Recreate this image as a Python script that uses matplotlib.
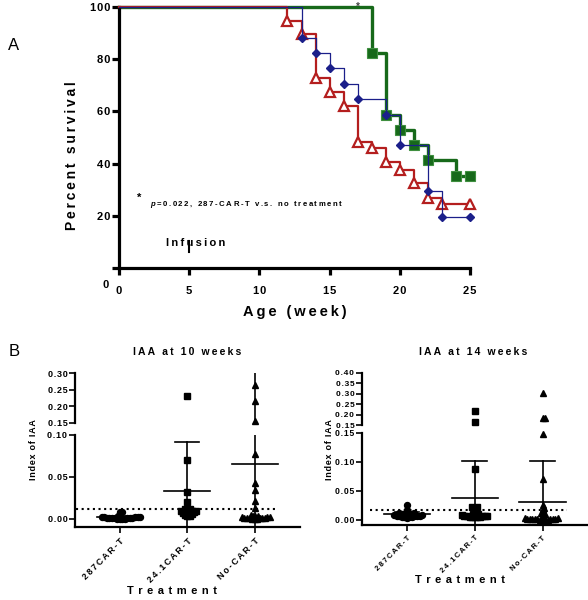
import numpy as np
import matplotlib.pyplot as plt

plt.rcParams['font.family'] = ['Liberation Sans', 'DejaVu Sans']
plt.rcParams['font.weight'] = 'bold'
plt.rcParams['mathtext.fontset'] = 'custom'
plt.rcParams['mathtext.it'] = 'Liberation Sans:italic:bold'

##################################################################################
# Data
##################################################################################
# Panel A - Kaplan-Meier survival (event week, percent surviving after it)
weeks_287 = [18, 19, 20, 21, 22, 24, 25]
surv_287 = [82.4, 58.8, 52.9, 47.1, 41.2, 35.3, 35.3]
weeks_241 = [13, 14, 15, 16, 17, 19, 20, 22, 23, 25]
surv_241 = [88.2, 82.4, 76.5, 70.6, 64.7, 58.8, 47.1, 29.4, 19.6, 19.6]
weeks_none = [12, 13, 14, 15, 16, 17, 18, 19, 20, 21, 22, 23, 25]
surv_none = [94.7, 89.5, 72.7, 67.3, 62.1, 48.4, 45.9, 40.5, 37.5, 32.4, 26.7, 24.5, 24.5]

# Panel B - index of IAA per mouse
categories = ['287CAR-T', '24.1CAR-T', 'No-CAR-T']

iaa10_287 = [0.008, 0.008, 0.003, 0.003, 0.002, 0.002, 0.002, 0.002, 0.002, 0.001,
             0.001, 0.001, 0.001, 0.001, 0.001, 0.001, 0.000, 0.000, 0.000, 0.000]
iaa10_241 = [0.23, 0.07, 0.032, 0.020, 0.012, 0.012, 0.011, 0.010, 0.010, 0.009,
             0.009, 0.008, 0.008, 0.007, 0.007, 0.006, 0.005, 0.004, 0.003]
iaa10_none = [0.265, 0.215, 0.155, 0.077, 0.043, 0.035, 0.021, 0.013, 0.005, 0.004,
              0.003, 0.003, 0.002, 0.002, 0.002, 0.001, 0.001, 0.001, 0.001, 0.001,
              0.001, 0.000, 0.000, 0.000]
mean10 = [0.002, 0.033, 0.066]
sd10 = [0.002, 0.059, 0.25]
cutoff10 = 0.012

iaa14_287 = [0.026, 0.017, 0.012, 0.011, 0.010, 0.010, 0.009, 0.009, 0.008, 0.008,
             0.008, 0.007, 0.007, 0.007, 0.006, 0.006, 0.005, 0.005, 0.004, 0.004, 0.003]
iaa14_241 = [0.218, 0.163, 0.087, 0.022, 0.022, 0.020, 0.010, 0.009, 0.008, 0.008,
             0.007, 0.007, 0.006, 0.006, 0.006, 0.005, 0.005, 0.005, 0.004, 0.004]
iaa14_none = [0.304, 0.182, 0.182, 0.147, 0.070, 0.025, 0.021, 0.018, 0.012, 0.010,
              0.008, 0.004, 0.003, 0.003, 0.002, 0.002, 0.002, 0.001, 0.001, 0.001,
              0.001, 0.001, 0.000, 0.000, 0.000, 0.000]
mean14 = [0.010, 0.038, 0.031]
sd14 = [0.004, 0.063, 0.071]
cutoff14 = 0.0167

W, H = 588, 600
HAIR, THIN = '\u200a', '\u2009'


def box(x0, y0, x1, y1):
    # pixel box (top-left origin) -> figure fraction rect
    return [x0 / W, 1 - y1 / H, (x1 - x0) / W, (y1 - y0) / H]


def spaced(s, sp=HAIR):
    return sp.join(s)


fig = plt.figure(figsize=(W / 100, H / 100), dpi=100)

##################################################################################
# Panel A
##################################################################################
axA = fig.add_axes(box(119, 7, 470, 268))
green, blue, red = '#17691a', '#1b1f8a', '#b41e1e'

axA.step([0] + weeks_287, [100] + surv_287, where='post', color=green, lw=2.4, clip_on=False, zorder=2)
axA.plot(weeks_287, surv_287, ls='none', marker='s', ms=6.5, mfc=green, mec='#3f8f3f', mew=0.8,
         clip_on=False, zorder=2)
axA.step([0] + weeks_none, [100] + surv_none, where='post', color=red, lw=1.6, clip_on=False, zorder=3)
axA.plot(weeks_none, surv_none, ls='none', marker='^', ms=6.5, mfc='white', mec=red, mew=1.6,
         clip_on=False, zorder=3)
axA.step([0] + weeks_241, [100] + surv_241, where='post', color=blue, lw=0.9, clip_on=False, zorder=4)
axA.plot(weeks_241, surv_241, ls='none', marker='D', ms=4.5, mfc=blue, mec=blue, clip_on=False, zorder=4)

axA.set_xlim(0, 25)
axA.set_ylim(0, 100)
for s in ['top', 'right']:
    axA.spines[s].set_visible(False)
for s in ['left', 'bottom']:
    axA.spines[s].set_linewidth(2.3)
axA.set_xticks([0, 5, 10, 15, 20, 25])
axA.set_xticklabels([spaced(str(t)) for t in [0, 5, 10, 15, 20, 25]])
axA.set_yticks([0, 20, 40, 60, 80, 100])
axA.set_yticklabels([''] + [spaced(str(t)) for t in [20, 40, 60, 80, 100]])
axA.tick_params(axis='x', length=5, width=2.3, pad=8, labelsize=8)
axA.tick_params(axis='y', length=5, width=2.3, pad=1, labelsize=8)
axA.text(-0.95, -6.5, '0', ha='center', va='center', fontsize=8, fontweight='bold', clip_on=False)

fig.text(72 / W, 1 - 156 / H, spaced('Percent survival', THIN), rotation=90, ha='center',
         va='center', fontsize=10, fontweight='bold')
fig.text(295 / W, 1 - 312 / H, spaced('Age (week)', THIN), ha='center', va='center',
         fontsize=10.5, fontweight='bold')

axA.text(1.45, 27, '*', fontsize=8, fontweight='bold', ha='center', va='center')
axA.text(2.2, 24.5, r'$p$' + THIN + spaced('=0.022, 287-CAR-T v.s. no treatment', THIN),
         fontsize=5.6, fontweight='bold', ha='left', va='center')
axA.text(17, 100.2, '*', fontsize=7, color='#444444', ha='center', va='center', clip_on=False)
axA.text(3.35, 9.6, spaced('Infusion', THIN), fontsize=8, fontweight='bold', ha='left', va='center')
axA.plot([5, 5], [6.2, 10.5], color='black', lw=1.5)

fig.text(14 / W, 1 - 45 / H, 'A', fontsize=12, fontweight='normal', ha='center', va='center')
fig.text(14 / W, 1 - 352 / H, 'B', fontsize=12, fontweight='normal', ha='center', va='center')


##################################################################################
# Panel B
##################################################################################
def swarm_offsets(ax, xc, vals, d):
    # simple beeswarm in pixels, returns x data positions
    ypx = [ax.transData.transform((xc, v))[1] for v in vals]
    ppu = ax.transData.transform((1, 0))[0] - ax.transData.transform((0, 0))[0]
    order = np.argsort(ypx)
    placed = []
    xs = np.zeros(len(vals))
    for i in order:
        y = ypx[i]
        cands = [0.0]
        for px, py in placed:
            dy = abs(py - y)
            if dy < d:
                dx = np.sqrt(d * d - dy * dy)
                cands += [px + dx, px - dx]
        cands.sort(key=abs)
        for c in cands:
            if all((c - px) ** 2 + (y - py) ** 2 >= d * d - 1e-6 for px, py in placed):
                break
        placed.append((c, y))
        xs[i] = xc + c / ppu
    return xs


def iaa_panel(px_left, px_right, top_box, bot_box, top_lim, bot_lim, top_ticks, bot_ticks,
              groups, means, sds, cutoff, cut_span, title, title_x, ylab_x, xlab_xy,
              top_fs, bot_fs, cat_fs):
    axT = fig.add_axes(box(px_left, top_box[0], px_right, top_box[1]))
    axB = fig.add_axes(box(px_left, bot_box[0], px_right, bot_box[1]))
    xlim = (-0.66, 2.67)
    for ax, lim, ticks, fs in [(axT, top_lim, top_ticks, top_fs), (axB, bot_lim, bot_ticks, bot_fs)]:
        ax.set_xlim(*xlim)
        ax.set_ylim(*lim)
        for s in ['top', 'right']:
            ax.spines[s].set_visible(False)
        ax.spines['left'].set_linewidth(1.6)
        ax.spines['bottom'].set_linewidth(1.6)
        ax.set_yticks(ticks)
        ax.set_yticklabels([spaced('%.2f' % t) for t in ticks])
        ax.tick_params(axis='y', length=4, width=1.2, pad=1.5, labelsize=fs)
        ax.patch.set_alpha(0)
    axT.spines['bottom'].set_visible(False)
    axT.set_xticks([])
    axB.set_xticks([0, 1, 2])
    axB.set_xticklabels([spaced(c, THIN) for c in categories], rotation=45, ha='right', va='top',
                        rotation_mode='anchor')
    axB.tick_params(axis='x', length=4, width=1.2, pad=3, labelsize=cat_fs)

    brk = (top_lim[0] + bot_lim[1]) / 2
    mk = ['o', 's', '^']
    for i, vals in enumerate(groups):
        vals = np.array(vals)
        for ax, sel in [(axT, vals > brk), (axB, vals <= brk)]:
            v = vals[sel]
            if len(v) == 0:
                continue
            xs = swarm_offsets(ax, i, v, 2.6)
            ax.plot(xs, v, ls='none', marker=mk[i], ms=4.3, color='black', zorder=2, clip_on=False)
        m, s = means[i], sds[i]
        for ax in (axT, axB):
            ax.plot([i - 0.34, i + 0.34], [m, m], color='black', lw=1.2, zorder=3)
            ax.plot([i, i], [m - s, m + s], color='black', lw=1.2, zorder=3)
            ax.plot([i - 0.18, i + 0.18], [m + s, m + s], color='black', lw=1.2, zorder=3)
            ax.plot([i - 0.18, i + 0.18], [m - s, m - s], color='black', lw=1.2, zorder=3)
    axB.plot(cut_span, [cutoff, cutoff], color='black', lw=1.5, ls=(0, (1, 1.7)), zorder=4)

    fig.text(title_x / W, 1 - 352 / H, spaced(title, THIN), ha='center', va='center', fontsize=7.5,
             fontweight='bold')
    fig.text(ylab_x / W, 1 - 450 / H, spaced('Index of IAA'), rotation=90, ha='center',
             va='center', fontsize=6.5, fontweight='bold')
    fig.text(xlab_xy[0] / W, 1 - xlab_xy[1] / H, spaced('Treatment', THIN + THIN), ha='center',
             va='center', fontsize=8, fontweight='bold')


iaa_panel(75, 300, (373.3, 422.7), (435, 526.7), (0.15, 0.30), (-0.0092, 0.10),
          [0.15, 0.20, 0.25, 0.30], [0.00, 0.05, 0.10],
          [iaa10_287, iaa10_241, iaa10_none], mean10, sd10, cutoff10, [-0.64, 2.33],
          'IAA at 10 weeks', 187.5, 33, (172, 591), 6.5, 6.5, 6.4)

iaa_panel(362, 588, (372.7, 425), (432.7, 524.7), (0.15, 0.40), (-0.0086, 0.15),
          [0.15, 0.20, 0.25, 0.30, 0.35, 0.40], [0.00, 0.05, 0.10, 0.15],
          [iaa14_287, iaa14_241, iaa14_none], mean14, sd14, cutoff14, [-0.54, 2.36],
          'IAA at 14 weeks', 473, 330, (460, 580), 6.0, 6.2, 5.4)

fig.savefig('out.png', dpi=100)
